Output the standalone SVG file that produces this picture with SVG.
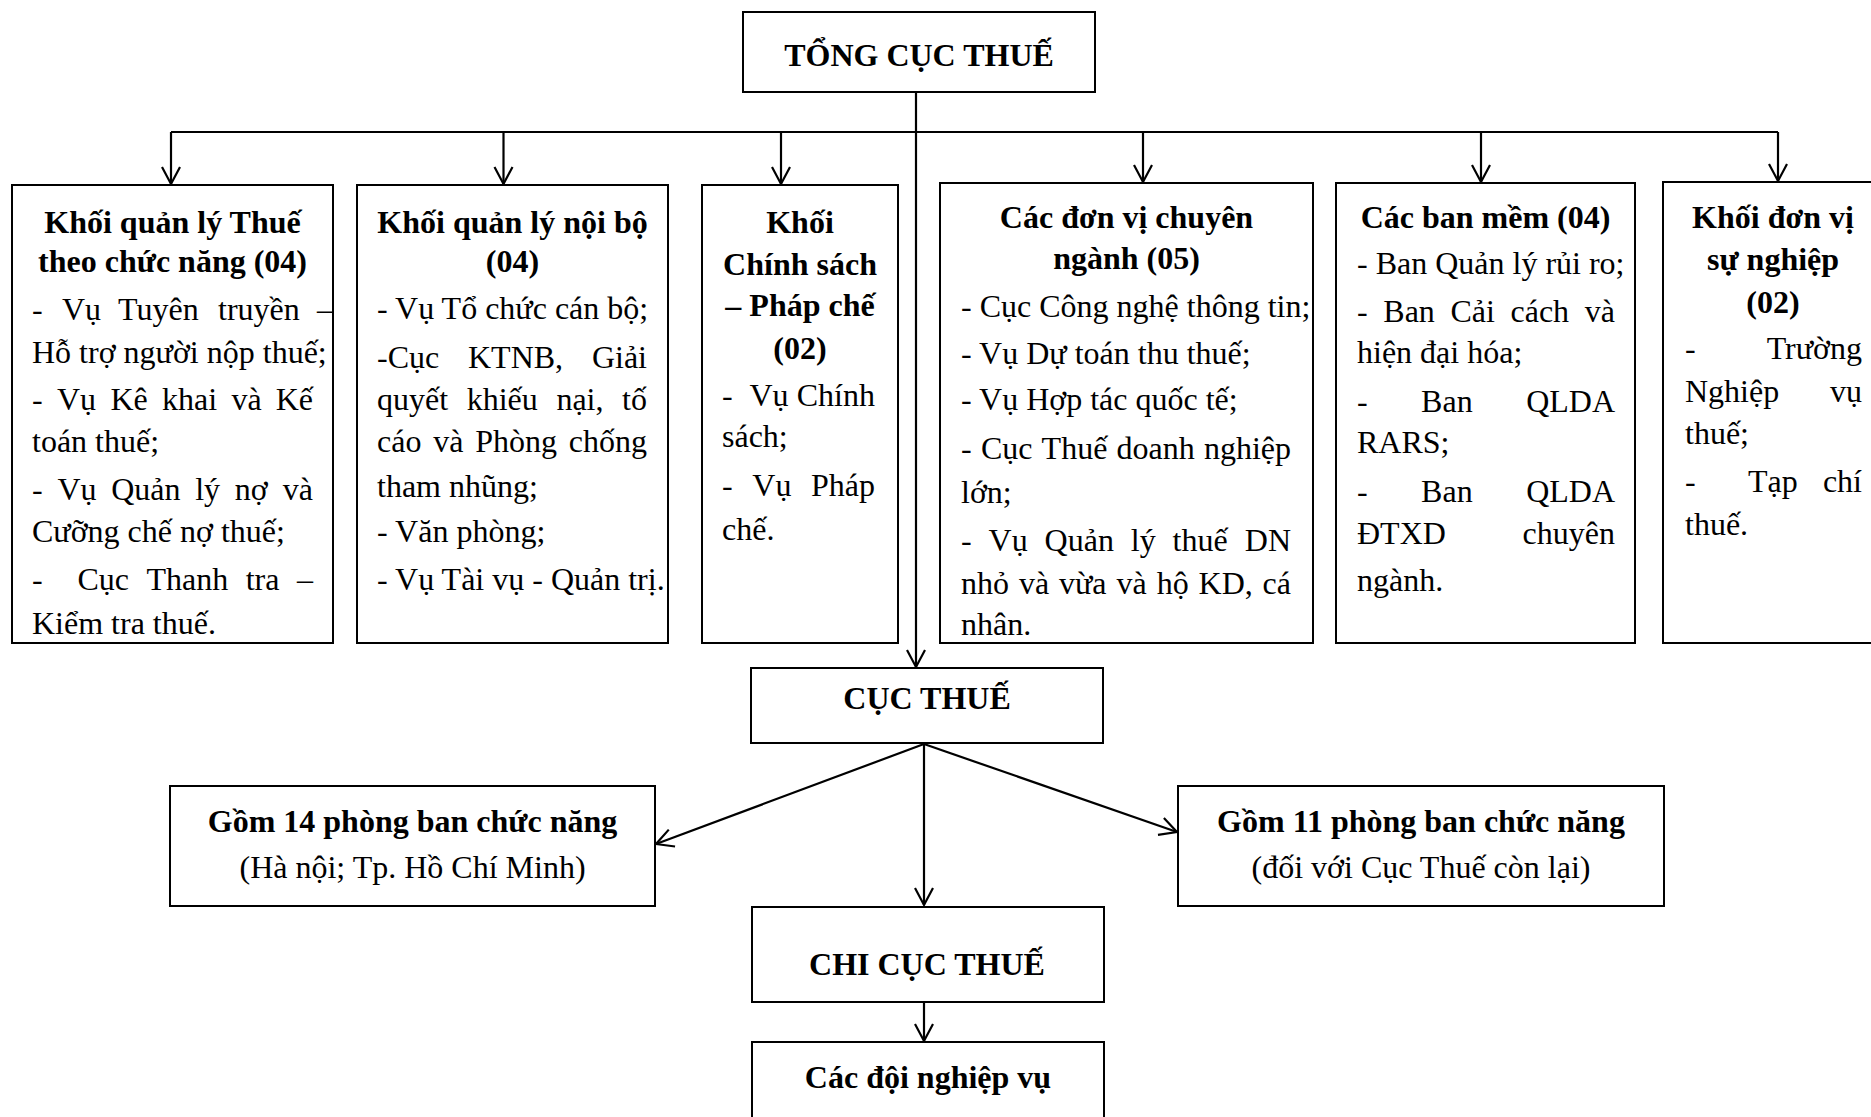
<svg xmlns="http://www.w3.org/2000/svg" width="1871" height="1117" viewBox="0 0 1871 1117">
<style>
.box{fill:#fff;stroke:#000;stroke-width:2}
text{font-family:"Liberation Serif","Times New Roman",serif;font-size:32px;fill:#000}
.h{font-weight:bold;text-anchor:middle}
.c{text-anchor:middle}
.e{text-anchor:end}
.ln{fill:none;stroke:#000;stroke-width:2.2}
</style>
<defs>
<marker id="arr" markerUnits="userSpaceOnUse" markerWidth="22" markerHeight="22" viewBox="0 0 22 22" refX="20" refY="11" orient="auto" style="overflow:visible">
<path d="M3,2 L20,11 L3,20" fill="none" stroke="#000" stroke-width="2.2"/>
</marker>
</defs>
<rect width="1871" height="1117" fill="#fff"/>

<g id="connectors" class="ln">
<line x1="916" y1="92" x2="916" y2="667" marker-end="url(#arr)"/>
<line x1="171" y1="132" x2="1778" y2="132"/>
<line x1="171" y1="132" x2="171" y2="184" marker-end="url(#arr)"/>
<line x1="503.5" y1="132" x2="503.5" y2="184" marker-end="url(#arr)"/>
<line x1="781" y1="132" x2="781" y2="184" marker-end="url(#arr)"/>
<line x1="1143" y1="132" x2="1143" y2="182" marker-end="url(#arr)"/>
<line x1="1481" y1="132" x2="1481" y2="182" marker-end="url(#arr)"/>
<line x1="1778" y1="132" x2="1778" y2="181" marker-end="url(#arr)"/>
<line x1="924" y1="744" x2="656" y2="844" marker-end="url(#arr)"/>
<line x1="924" y1="744" x2="1177" y2="832" marker-end="url(#arr)"/>
<line x1="924" y1="744" x2="924" y2="905" marker-end="url(#arr)"/>
<line x1="924" y1="1002" x2="924" y2="1041" marker-end="url(#arr)"/>
</g>

<g id="tong-cuc-thue">
<rect class="box" x="743" y="12" width="352" height="80"/>
<text class="h" x="919" y="66">TỔNG CỤC THUẾ</text>
</g>

<g id="khoi-quan-ly-thue">
<rect class="box" x="12" y="185" width="321" height="458"/>
<text class="h" x="172.5" y="233">Khối quản lý Thuế</text>
<text class="h" x="172.5" y="272">theo chức năng (04)</text>
<text y="320"><tspan x="32">- </tspan><tspan x="62">Vụ </tspan><tspan x="118">Tuyên </tspan><tspan x="218">truyền </tspan><tspan x="317">–</tspan></text>
<text x="32" y="363">Hỗ trợ người nộp thuế;</text>
<text y="410"><tspan x="32">- </tspan><tspan x="57">Vụ </tspan><tspan x="110.4">Kê </tspan><tspan x="162">khai </tspan><tspan x="231.4">và </tspan><tspan class="e" x="313">Kế</tspan></text>
<text x="32" y="452">toán thuế;</text>
<text y="500"><tspan x="32">- </tspan><tspan x="57.4">Vụ </tspan><tspan x="111.2">Quản </tspan><tspan x="195.2">lý </tspan><tspan x="234.8">nợ </tspan><tspan class="e" x="313">và</tspan></text>
<text x="32" y="542">Cưỡng chế nợ thuế;</text>
<text y="590"><tspan x="32">- </tspan><tspan x="77.5">Cục </tspan><tspan x="146.5">Thanh </tspan><tspan x="245.7">tra </tspan><tspan class="e" x="313">–</tspan></text>
<text x="32" y="634">Kiểm tra thuế.</text>
</g>

<g id="khoi-quan-ly-noi-bo">
<rect class="box" x="357" y="185" width="311" height="458"/>
<text class="h" x="512.5" y="233">Khối quản lý nội bộ</text>
<text class="h" x="512.5" y="272">(04)</text>
<text x="377" y="319">- Vụ Tổ chức cán bộ;</text>
<text y="368"><tspan x="377">-Cục </tspan><tspan x="468">KTNB, </tspan><tspan class="e" x="647">Giải</tspan></text>
<text y="410"><tspan x="377">quyết </tspan><tspan x="466.7">khiếu </tspan><tspan x="556.4">nại, </tspan><tspan class="e" x="647">tố</tspan></text>
<text y="452"><tspan x="377">cáo </tspan><tspan x="433.2">và </tspan><tspan x="475.2">Phòng </tspan><tspan class="e" x="647">chống</tspan></text>
<text x="377" y="497">tham nhũng;</text>
<text x="377" y="542">- Văn phòng;</text>
<text x="377" y="590">- Vụ Tài vụ - Quản trị.</text>
</g>

<g id="khoi-chinh-sach">
<rect class="box" x="702" y="185" width="196" height="458"/>
<text class="h" x="800" y="233">Khối</text>
<text class="h" x="800" y="275">Chính sách</text>
<text class="h" x="800" y="316">– Pháp chế</text>
<text class="h" x="800" y="359">(02)</text>
<text y="406"><tspan x="722">- </tspan><tspan x="749.4">Vụ </tspan><tspan class="e" x="875">Chính</tspan></text>
<text x="722" y="447">sách;</text>
<text y="496"><tspan x="722">- </tspan><tspan x="752.3">Vụ </tspan><tspan class="e" x="875">Pháp</tspan></text>
<text x="722" y="540">chế.</text>
</g>

<g id="don-vi-chuyen-nganh">
<rect class="box" x="940" y="183" width="373" height="460"/>
<text class="h" x="1126.5" y="228">Các đơn vị chuyên</text>
<text class="h" x="1126.5" y="269">ngành (05)</text>
<text x="961" y="317">- Cục Công nghệ thông tin;</text>
<text x="961" y="364">- Vụ Dự toán thu thuế;</text>
<text x="961" y="410">- Vụ Hợp tác quốc tế;</text>
<text y="459"><tspan x="961">- </tspan><tspan x="980.9">Cục </tspan><tspan x="1041.6">Thuế </tspan><tspan x="1116.6">doanh </tspan><tspan class="e" x="1291">nghiệp</tspan></text>
<text x="961" y="503">lớn;</text>
<text y="551"><tspan x="961">- </tspan><tspan x="988.6">Vụ </tspan><tspan x="1044.6">Quản </tspan><tspan x="1130.8">lý </tspan><tspan x="1172.6">thuế </tspan><tspan class="e" x="1291">DN</tspan></text>
<text y="594"><tspan x="961">nhỏ </tspan><tspan x="1018.9">và </tspan><tspan x="1058.9">vừa </tspan><tspan x="1116.6">và </tspan><tspan x="1156.7">hộ </tspan><tspan x="1198.6">KD, </tspan><tspan class="e" x="1291">cá</tspan></text>
<text x="961" y="635">nhân.</text>
</g>

<g id="cac-ban-mem">
<rect class="box" x="1336" y="183" width="299" height="460"/>
<text class="h" x="1485.5" y="228">Các ban mềm (04)</text>
<text x="1357" y="274">- Ban Quản lý rủi ro;</text>
<text y="322"><tspan x="1357">- </tspan><tspan x="1383.3">Ban </tspan><tspan x="1450.5">Cải </tspan><tspan x="1510.5">cách </tspan><tspan class="e" x="1615">và</tspan></text>
<text x="1357" y="363">hiện đại hóa;</text>
<text y="412"><tspan x="1357">- </tspan><tspan x="1421.1">Ban </tspan><tspan class="e" x="1615">QLDA</tspan></text>
<text x="1357" y="453">RARS;</text>
<text y="502"><tspan x="1357">- </tspan><tspan x="1421.1">Ban </tspan><tspan class="e" x="1615">QLDA</tspan></text>
<text y="544"><tspan x="1357">ĐTXD </tspan><tspan class="e" x="1615">chuyên</tspan></text>
<text x="1357" y="591">ngành.</text>
</g>

<g id="don-vi-su-nghiep">
<rect class="box" x="1663" y="182" width="222" height="461"/>
<text class="h" x="1773" y="228">Khối đơn vị</text>
<text class="h" x="1773" y="270">sự nghiệp</text>
<text class="h" x="1773" y="313">(02)</text>
<text y="359"><tspan x="1685">- </tspan><tspan class="e" x="1862">Trường</tspan></text>
<text y="402"><tspan x="1685">Nghiệp </tspan><tspan class="e" x="1862">vụ</tspan></text>
<text x="1685" y="444">thuế;</text>
<text y="492"><tspan x="1685">- </tspan><tspan x="1748">Tạp </tspan><tspan class="e" x="1862">chí</tspan></text>
<text x="1685" y="535">thuế.</text>
</g>

<g id="cuc-thue">
<rect class="box" x="751" y="668" width="352" height="75"/>
<text class="h" x="927" y="709">CỤC THUẾ</text>
</g>

<g id="gom-14">
<rect class="box" x="170" y="786" width="485" height="120"/>
<text class="h" x="412.5" y="832">Gồm 14 phòng ban chức năng</text>
<text class="c" x="412.5" y="878">(Hà nội; Tp. Hồ Chí Minh)</text>
</g>

<g id="gom-11">
<rect class="box" x="1178" y="786" width="486" height="120"/>
<text class="h" x="1421" y="832">Gồm 11 phòng ban chức năng</text>
<text class="c" x="1421" y="878">(đối với Cục Thuế còn lại)</text>
</g>

<g id="chi-cuc-thue">
<rect class="box" x="752" y="907" width="352" height="95"/>
<text class="h" x="927" y="975">CHI CỤC THUẾ</text>
</g>

<g id="cac-doi-nghiep-vu">
<rect class="box" x="752" y="1042" width="352" height="100"/>
<text class="h" x="928" y="1088">Các đội nghiệp vụ</text>
</g>
</svg>
